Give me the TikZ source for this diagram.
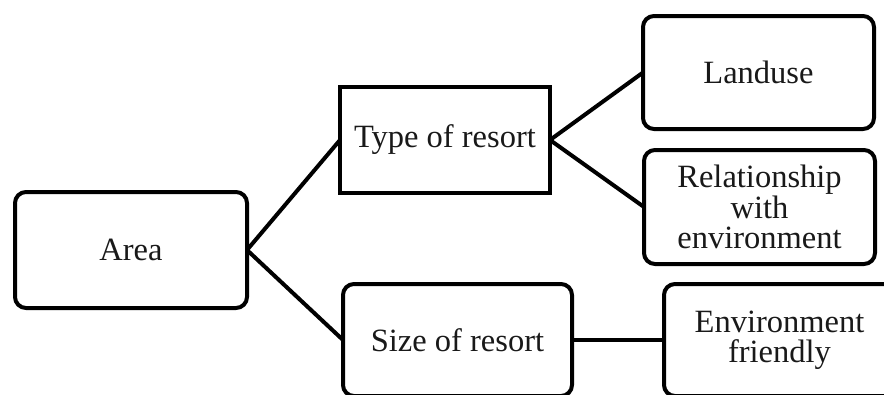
\documentclass[tikz,border=0pt]{standalone}
\usepackage{fontspec}
\setmainfont{Liberation Serif}
\begin{document}
\begin{tikzpicture}[x=1pt,y=-1pt,
  box/.style={draw=black,line width=4pt,rounded corners=11pt,outer sep=0pt,inner sep=0pt,
    align=center,font=\fontsize{32.5}{30.5}\selectfont,text=black!90},
  sharpbox/.style={box,rounded corners=0pt},
  link/.style={line width=4pt,draw=black}]
\useasboundingbox (0,0) rectangle (884,394);
\clip (0,0) rectangle (884,394);
\node[box,minimum width=232pt,minimum height=116pt] (area) at (131,250) {Area};
\node[sharpbox,minimum width=210pt,minimum height=106pt] (type) at (445,140) {Type of resort};
\node[box,minimum width=229pt,minimum height=112pt] (size) at (457.5,340) {Size of resort};
\node[box,minimum width=231pt,minimum height=113pt] (land) at (758.5,72.5) {Landuse};
\node[box,minimum width=231pt,minimum height=114pt] (rel) at (759.5,207) {Relationship\\with\\environment};
\node[box,minimum width=231pt,minimum height=112pt] (env) at (779.5,340) {Environment\\friendly};
\draw[link] (area.east) -- (type.west);
\draw[link] (area.east) -- (size.west);
\draw[link] (type.east) -- (land.west);
\draw[link] (type.east) -- (rel.west);
\draw[link] (size.east) -- (env.west);
\end{tikzpicture}
\end{document}
